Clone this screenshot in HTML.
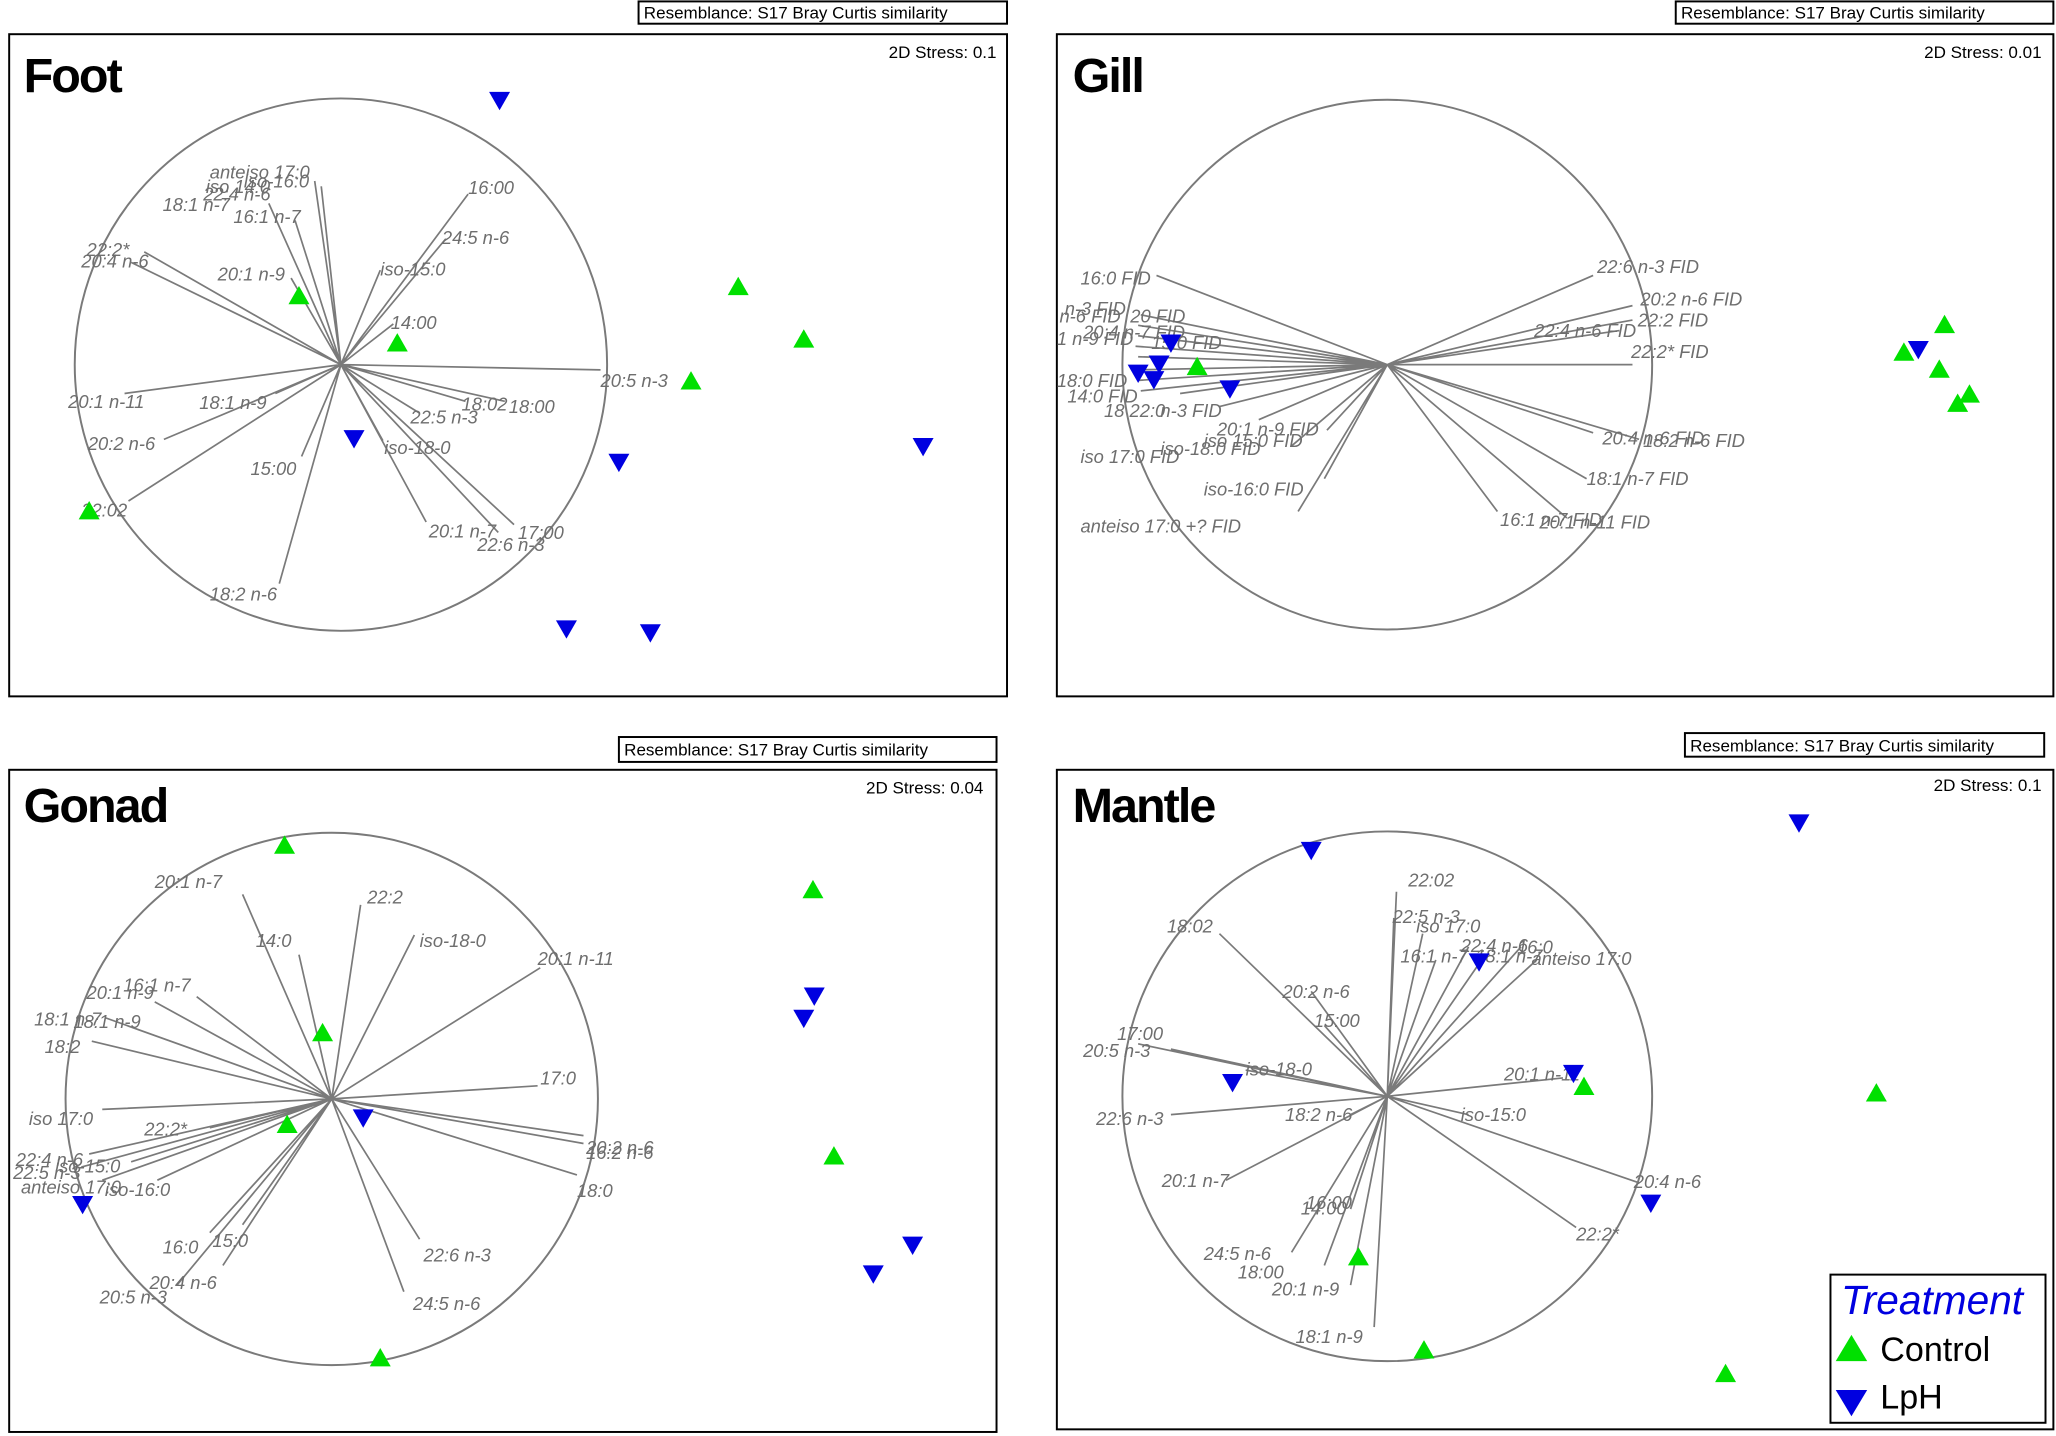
<!DOCTYPE html>
<html><head><meta charset="utf-8"><style>
html,body{margin:0;padding:0;background:#fff;}
svg{display:block;}
.l{stroke:#7a7a7a;stroke-width:1.3;fill:none}
.c{stroke:#7a7a7a;stroke-width:1.5;fill:none}
.t{font-family:"Liberation Sans",sans-serif;font-style:italic;font-size:14px;fill:#6e6e6e}
.b{fill:none;stroke:#000;stroke-width:1.5}
.r{font-family:"Liberation Sans",sans-serif;font-size:13px;fill:#000}
.h{font-family:"Liberation Sans",sans-serif;font-size:37px;font-weight:bold;fill:#000;letter-spacing:-1.5px}
</style></head><body>
<svg width="2056" height="1436" viewBox="0 0 1568 1095" xmlns="http://www.w3.org/2000/svg">
<defs>
<polygon id="u" points="0,-8 8,6 -8,6" fill="#00e000"/>
<polygon id="d" points="-8,-6 8,-6 0,8" fill="#0000e0"/>
</defs>

<!-- FOOT -->
<rect class="b" x="7" y="26" width="761" height="505"/>
<rect class="b" x="487" y="1" width="281" height="17"/>
<text class="r" x="491" y="14">Resemblance: S17 Bray Curtis similarity</text>
<text class="r" x="760" y="44" text-anchor="end">2D Stress: 0.1</text>
<text class="h" x="18" y="70">Foot</text>
<circle class="c" cx="260" cy="278" r="203"/>
<g class="l">
<path d="M260 278L240 138M260 278L245 142M260 278L205 155M260 278L225 168M260 278L110 192M260 278L100 200M260 278L222 212M260 278L357 148M260 278L340 182M260 278L290 206M260 278L300 247M260 278L458 282M260 278L355 306M260 278L385 306M260 278L320 315M260 278L292 336M260 278L95 300M260 278L210 300M260 278L125 335M260 278L230 348M260 278L98 382M260 278L213 445M260 278L325 398M260 278L392 400M260 278L380 406"/>
</g>
<g class="t">
<text x="160" y="136">anteiso 17:0</text><text x="186" y="143">iso-16:0</text><text x="157" y="147">iso 14:0</text><text x="155" y="153">22:4 n-6</text>
<text x="124" y="161">18:1 n-7</text><text x="178" y="170">16:1 n-7</text><text x="66" y="195">22:2*</text><text x="62" y="204">20:4 n-6</text>
<text x="166" y="214">20:1 n-9</text><text x="357" y="148">16:00</text><text x="337" y="186">24:5 n-6</text><text x="290" y="210">iso-15:0</text>
<text x="298" y="251">14:00</text><text x="458" y="295">20:5 n-3</text><text x="352" y="313">18:02</text><text x="388" y="315">18:00</text>
<text x="313" y="323">22:5 n-3</text><text x="293" y="346">iso-18-0</text><text x="52" y="311">20:1 n-11</text><text x="152" y="312">18:1 n-9</text>
<text x="67" y="343">20:2 n-6</text><text x="191" y="362">15:00</text><text x="62" y="394">22:02</text><text x="160" y="458">18:2 n-6</text>
<text x="327" y="410">20:1 n-7</text><text x="395" y="411">17:00</text><text x="364" y="420">22:6 n-3</text>
</g>
<use href="#u" x="228" y="226"/><use href="#u" x="303" y="262"/><use href="#u" x="563" y="219"/><use href="#u" x="613" y="259"/><use href="#u" x="527" y="291"/><use href="#u" x="68" y="390"/>
<use href="#d" x="381" y="76"/><use href="#d" x="270" y="334"/><use href="#d" x="472" y="352"/><use href="#d" x="704" y="340"/><use href="#d" x="432" y="479"/><use href="#d" x="496" y="482"/>

<!-- GILL -->
<rect class="b" x="806" y="26" width="760" height="505"/>
<rect class="b" x="1278" y="1" width="288" height="17"/>
<text class="r" x="1282" y="14">Resemblance: S17 Bray Curtis similarity</text>
<text class="r" x="1557" y="44" text-anchor="end">2D Stress: 0.01</text>
<text class="h" x="818" y="70">Gill</text>
<circle class="c" cx="1058" cy="278" r="202"/>
<g class="l">
<path d="M1058 278L882 210M1058 278L870 240M1058 278L868 248M1058 278L868 256M1058 278L866 264M1058 278L868 272M1058 278L868 282M1058 278L868 290M1058 278L870 298M1058 278L900 300M1058 278L930 310M1058 278L960 320M1058 278L985 340M1058 278L1012 328M1058 278L1010 365M1058 278L990 390M1058 278L1215 210M1058 278L1245 233M1058 278L1235 252M1058 278L1245 244M1058 278L1245 278M1058 278L1215 330M1058 278L1250 335M1058 278L1210 365M1058 278L1142 390M1058 278L1195 395"/>
</g>
<g class="t">
<text x="824" y="217">16:0 FID</text><text x="812" y="240">n-3 FID</text><text x="808" y="246">n-6 FID</text><text x="862" y="246">20 FID</text>
<text x="826" y="258">20:4 n-7 FID</text><text x="806" y="263">1 n-9 FID</text><text x="878" y="266">15:0 FID</text>
<text x="806" y="295">18:0 FID</text><text x="814" y="307">14:0 FID</text><text x="842" y="318">18 22:0</text><text x="885" y="318">n-3 FID</text>
<text x="928" y="332">20:1 n-9 FID</text><text x="885" y="347">iso-18:0 FID</text><text x="918" y="341">iso 15:0 FID</text>
<text x="824" y="353">iso 17:0 FID</text><text x="918" y="378">iso-16:0 FID</text><text x="824" y="406">anteiso 17:0 +? FID</text>
<text x="1218" y="208">22:6 n-3 FID</text><text x="1251" y="233">20:2 n-6 FID</text><text x="1170" y="257">22:4 n-6 FID</text><text x="1249" y="249">22:2 FID</text>
<text x="1244" y="273">22:2* FID</text><text x="1222" y="339">20:4 n-6 FID</text><text x="1253" y="341">18:2 n-6 FID</text>
<text x="1210" y="370">18:1 n-7 FID</text><text x="1144" y="401">16:1 n-7 FID</text><text x="1174" y="403">20:1 n-11 FID</text>
</g>
<use href="#u" x="913" y="280"/><use href="#u" x="1483" y="248"/><use href="#u" x="1452" y="269"/><use href="#u" x="1479" y="282"/><use href="#u" x="1502" y="301"/><use href="#u" x="1493" y="308"/>
<use href="#d" x="893" y="261"/><use href="#d" x="884" y="277"/><use href="#d" x="868" y="284"/><use href="#d" x="880" y="289"/><use href="#d" x="938" y="296"/><use href="#d" x="1463" y="266"/>

<!-- GONAD -->
<rect class="b" x="7" y="587" width="753" height="505"/>
<rect class="b" x="472" y="562" width="288" height="19"/>
<text class="r" x="476" y="576">Resemblance: S17 Bray Curtis similarity</text>
<text class="r" x="750" y="605" text-anchor="end">2D Stress: 0.04</text>
<text class="h" x="18" y="627">Gonad</text>
<circle class="c" cx="253" cy="838" r="203"/>
<g class="l">
<path d="M253 838L185 682M253 838L228 728M253 838L275 690M253 838L316 713M253 838L412 738M253 838L150 760M253 838L118 764M253 838L80 776M253 838L105 785M253 838L70 794M253 838L410 828M253 838L445 866M253 838L445 872M253 838L440 896M253 838L78 846M253 838L160 860M253 838L68 880M253 838L62 890M253 838L100 886M253 838L78 900M253 838L120 900M253 838L160 940M253 838L185 934M253 838L170 965M253 838L135 980M253 838L320 945M253 838L308 985"/>
</g>
<g class="t">
<text x="118" y="677">20:1 n-7</text><text x="195" y="722">14:0</text><text x="280" y="689">22:2</text><text x="320" y="722">iso-18-0</text>
<text x="410" y="736">20:1 n-11</text><text x="94" y="756">16:1 n-7</text><text x="66" y="762">20:1 n-9</text><text x="26" y="782">18:1 n-7</text>
<text x="56" y="784">18:1 n-9</text><text x="34" y="803">18:2</text><text x="412" y="827">17:0</text><text x="447" y="880">20:2 n-6</text>
<text x="447" y="884">16:2 n-6</text><text x="440" y="913">18:0</text><text x="22" y="858">iso 17:0</text><text x="110" y="866">22:2*</text>
<text x="12" y="889">22:4 n-6</text><text x="10" y="899">22:5 n-3</text><text x="42" y="894">iso-15:0</text><text x="16" y="910">anteiso 17:0</text>
<text x="80" y="912">iso-16:0</text><text x="124" y="956">16:0</text><text x="162" y="951">15:0</text><text x="114" y="983">20:4 n-6</text>
<text x="76" y="994">20:5 n-3</text><text x="323" y="962">22:6 n-3</text><text x="315" y="999">24:5 n-6</text>
</g>
<use href="#u" x="217" y="645"/><use href="#u" x="620" y="679"/><use href="#u" x="246" y="788"/><use href="#u" x="219" y="858"/><use href="#u" x="636" y="882"/><use href="#u" x="290" y="1036"/>
<use href="#d" x="621" y="759"/><use href="#d" x="613" y="776"/><use href="#d" x="277" y="852"/><use href="#d" x="63" y="918"/><use href="#d" x="696" y="949"/><use href="#d" x="666" y="971"/>

<!-- MANTLE -->
<rect class="b" x="806" y="587" width="760" height="503"/>
<rect class="b" x="1285" y="559" width="274" height="18"/>
<text class="r" x="1289" y="573">Resemblance: S17 Bray Curtis similarity</text>
<text class="r" x="1557" y="603" text-anchor="end">2D Stress: 0.1</text>
<text class="h" x="818" y="627">Mantle</text>
<circle class="c" cx="1058" cy="836" r="202"/>
<g class="l">
<path d="M1058 836L1065 680M1058 836L1063 700M1058 836L1085 712M1058 836L1120 722M1058 836L1130 732M1058 836L1095 732M1058 836L1160 722M1058 836L1172 732M1058 836L930 712M1058 836L1000 756M1058 836L1010 782M1058 836L868 796M1058 836L893 800M1058 836L950 816M1058 836L893 850M1058 836L1030 850M1058 836L1192 822M1058 836L1120 850M1058 836L1250 902M1058 836L1202 936M1058 836L935 900M1058 836L1030 922M1058 836L985 955M1058 836L1010 965M1058 836L1030 980M1058 836L1048 1012"/>
</g>
<g class="t">
<text x="1074" y="676">22:02</text><text x="1062" y="704">22:5 n-3</text><text x="1080" y="711">iso 17:0</text><text x="1114" y="726">22:4 n-6</text>
<text x="1125" y="734">18:1 n-7</text><text x="1068" y="734">16:1 n-7</text><text x="1157" y="727">16:0</text><text x="1168" y="736">anteiso 17:0</text>
<text x="890" y="711">18:02</text><text x="978" y="761">20:2 n-6</text><text x="1002" y="783">15:00</text><text x="852" y="793">17:00</text>
<text x="826" y="806">20:5 n-3</text><text x="950" y="820">iso-18-0</text><text x="836" y="858">22:6 n-3</text><text x="980" y="855">18:2 n-6</text>
<text x="1147" y="824">20:1 n-11</text><text x="1114" y="855">iso-15:0</text><text x="1246" y="906">20:4 n-6</text><text x="1202" y="946">22:2*</text>
<text x="886" y="905">20:1 n-7</text><text x="992" y="926">14:00</text><text x="996" y="922">16:00</text><text x="918" y="961">24:5 n-6</text>
<text x="944" y="975">18:00</text><text x="970" y="988">20:1 n-9</text><text x="988" y="1024">18:1 n-9</text>
</g>
<use href="#u" x="1208" y="829"/><use href="#u" x="1431" y="834"/><use href="#u" x="1036" y="959"/><use href="#u" x="1086" y="1030"/><use href="#u" x="1316" y="1048"/>
<use href="#d" x="1000" y="648"/><use href="#d" x="1372" y="627"/><use href="#d" x="1128" y="733"/><use href="#d" x="1200" y="818"/><use href="#d" x="940" y="825"/><use href="#d" x="1259" y="917"/>

<!-- LEGEND -->
<rect x="1396" y="972" width="164" height="113" fill="#fff" stroke="#000" stroke-width="1.5"/>
<text x="1404" y="1002" font-family="Liberation Sans,sans-serif" font-style="italic" font-size="31" fill="#0000e0">Treatment</text>
<polygon points="1412,1018 1424,1038 1400,1038" fill="#00e000"/>
<text x="1434" y="1038" font-family="Liberation Sans,sans-serif" font-size="26" fill="#000">Control</text>
<polygon points="1400,1060 1424,1060 1412,1080" fill="#0000e0"/>
<text x="1434" y="1074" font-family="Liberation Sans,sans-serif" font-size="26" fill="#000">LpH</text>
</svg>
</body></html>
